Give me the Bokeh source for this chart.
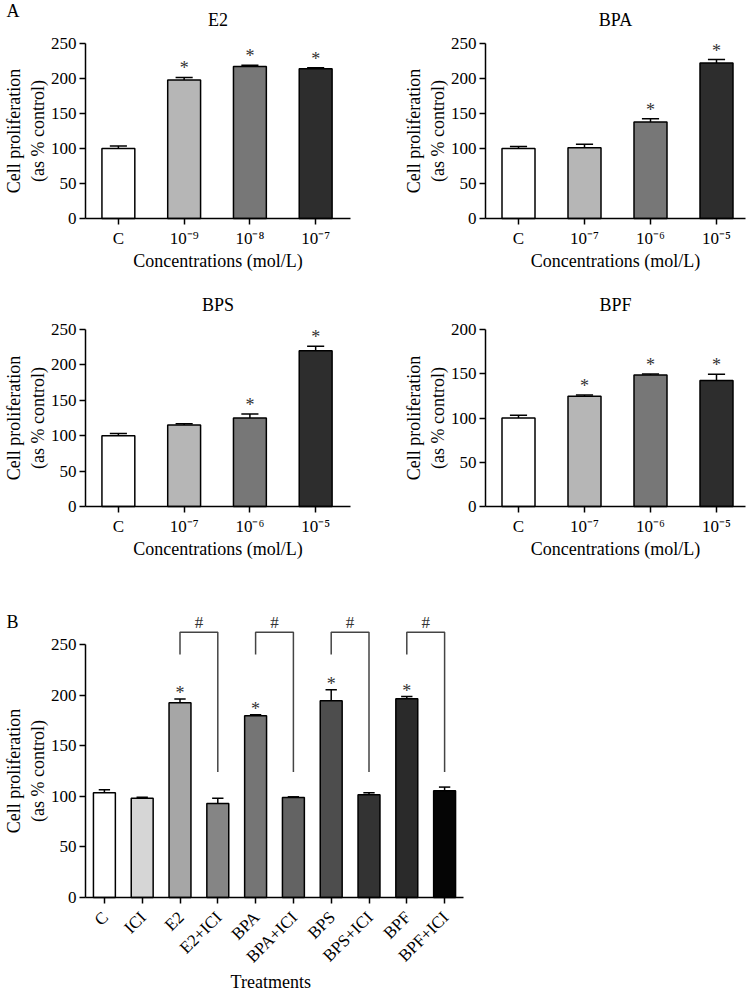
import math
from bokeh.plotting import figure
from bokeh.layouts import column, row
from bokeh.models import Range1d, FixedTicker
from bokeh.core.properties import value
from bokeh.embed import file_html
from bokeh.resources import INLINE

FONT = "Liberation Serif"

# ---------------- data (panel A) ----------------
e2_labels = ["C", "10⁻⁹", "10⁻⁸", "10⁻⁷"]
bp_labels = ["C", "10⁻⁷", "10⁻⁶", "10⁻⁵"]

e2_mean = [100, 198, 217, 214]
e2_err = [3.5, 3.5, 2, 1.2]
e2_sig = [False, True, True, True]

bpa_mean = [100, 101, 138, 222]
bpa_err = [3, 5, 4.5, 5]
bpa_sig = [False, False, True, True]

bps_mean = [100, 115, 125, 220]
bps_err = [3, 2, 5.5, 6.5]
bps_sig = [False, False, True, True]

bpf_mean = [100, 124.5, 148.5, 142.5]
bpf_err = [3, 1.5, 1.2, 7]
bpf_sig = [False, True, True, True]

colors_a = ["#ffffff", "#b6b6b6", "#777777", "#2d2d2d"]

# ---------------- data (panel B) ----------------
treatments = ["C", "ICI", "E2", "E2+ICI", "BPA", "BPA+ICI", "BPS", "BPS+ICI", "BPF", "BPF+ICI"]
treat_mean = [103.5, 98, 192.5, 93, 179.5, 98.8, 194.5, 101.5, 196.5, 105.5]
treat_err = [3, 1, 3.7, 5, 1, 0.7, 10.8, 2, 2, 3.6]
treat_sig = [False, False, True, False, True, False, True, False, True, False]
colors_b = ["#ffffff", "#d6d6d6", "#a6a6a6", "#858585", "#757575",
            "#636363", "#4d4d4d", "#333333", "#2a2a2a", "#050505"]
bracket_pairs = [(2, 3), (4, 5), (6, 7), (8, 9)]
bracket_top = 262
bracket_left_end = 240
bracket_right_end = 124

YLAB = "Cell proliferation\n(as % control)"


def make_fig(W, H, ax_px, zero_py, ppx, ppy):
    """Figure whose frame fills the canvas; axes sit at fixed data locations."""
    x0 = -0.5 - ax_px / ppx
    y0 = -(H - zero_py) / ppy
    p = figure(width=W, height=H, output_backend="svg", toolbar_location=None,
               x_range=Range1d(x0, x0 + W / ppx), y_range=Range1d(y0, zero_py / ppy),
               min_border=0, min_border_left=0, min_border_right=0,
               min_border_top=0, min_border_bottom=0)
    p.outline_line_color = None
    p.grid.visible = False
    p.xaxis.fixed_location = 0
    p.yaxis.fixed_location = -0.5
    return p


def style_axes(p, xlab, yticks, ybound, xbound, tick_size="17px"):
    p.yaxis.ticker = FixedTicker(ticks=yticks)
    p.yaxis.bounds = ybound
    p.xaxis.bounds = xbound
    for ax in (p.xaxis[0], p.yaxis[0]):
        ax.axis_line_width = 1.5
        ax.axis_line_color = "black"
        ax.major_tick_line_width = 1.5
        ax.major_tick_line_color = "black"
        ax.major_tick_out = 6
        ax.major_tick_in = 0
        ax.minor_tick_line_color = None
        ax.major_label_text_font = FONT
        ax.major_label_text_font_size = tick_size
        ax.major_label_text_color = "black"
        ax.axis_label_text_font = FONT
        ax.axis_label_text_font_size = "18px"
        ax.axis_label_text_font_style = "normal"
        ax.axis_label_text_color = "black"
    p.yaxis.axis_label = YLAB
    if xlab:
        p.xaxis.axis_label = xlab
    p.yaxis.major_label_standoff = 3
    p.yaxis.axis_label_standoff = 0
    p.xaxis.major_label_standoff = 4
    p.xaxis.axis_label_standoff = 0


def sx_text(p, x, y, txt, size="18px", color="black", align="center",
            baseline="middle", xoff=0, yoff=0, angle=0.0):
    p.text(x=x, y=y, text=txt, text_align=align, text_baseline=baseline,
           x_offset=xoff, y_offset=yoff, angle=angle, text_font=value(FONT),
           text_font_size=size, text_color=color)


def panel_a(title, labels, mean, err, sig, W, H, zero_py, ppx, ppy, x_axis_end,
            ymax_axis, title_py, letter=None):
    n = len(labels)
    idx = list(range(n))
    p = make_fig(W, H, 85, zero_py, ppx, ppy)
    style_axes(p, "Concentrations (mol/L)", list(range(0, ymax_axis + 1, 50)),
               (0, ymax_axis), (-0.5, x_axis_end))
    p.xaxis.ticker = FixedTicker(ticks=idx)
    p.xaxis.major_label_overrides = {i: lab for i, lab in enumerate(labels)}
    tops = [m + e for m, e in zip(mean, err)]
    cw = 0.13
    p.segment(x0=idx, y0=mean, x1=idx, y1=tops, line_color="black", line_width=1.5)
    p.segment(x0=[i - cw for i in idx], y0=tops, x1=[i + cw for i in idx], y1=tops,
              line_color="black", line_width=1.5)
    p.vbar(x=idx, top=mean, bottom=0, width=0.5, fill_color=colors_a,
           line_color="black", line_width=1.5)
    sx = [i for i, s in zip(idx, sig) if s]
    sy = [t for t, s in zip(tops, sig) if s]
    sx_text(p, sx, sy, ["*"] * len(sx), color="#333333", yoff=-9)
    sx_text(p, [(x_axis_end - 0.5) / 2], [(zero_py - title_py) / ppy], [title])
    if letter:
        x0 = p.x_range.start
        sx_text(p, [x0 + 6 / ppx], [p.y_range.end], [letter], align="left", baseline="top")
    return p


# Row 1 (page y 0..280)
p1 = panel_a("E2", e2_labels, e2_mean, e2_err, e2_sig, 400, 280, 218, 65.76, 0.7,
             3.53, 250, 19, letter="A")
p2 = panel_a("BPA", bp_labels, bpa_mean, bpa_err, bpa_sig, 350, 280, 218, 66.0, 0.7,
             3.44, 250, 19)
# Row 2 (page y 280..560)
p3 = panel_a("BPS", bp_labels, bps_mean, bps_err, bps_sig, 400, 280, 226, 65.76, 0.708,
             3.53, 250, 24)
p4 = panel_a("BPF", bp_labels, bpf_mean, bpf_err, bpf_sig, 350, 280, 226, 66.0, 0.885,
             3.44, 200, 24)

# Panel B (page y 560..992)
nb = len(treatments)
idxb = list(range(nb))
ppx_b, ppy_b = 37.8, 1.012
zero_b = 337
p5 = make_fig(480, 432, 85, zero_b, ppx_b, ppy_b)
style_axes(p5, None, list(range(0, 251, 50)), (0, 250), (-0.5, nb - 0.5))
p5.xaxis.ticker = FixedTicker(ticks=idxb)
# diagonal category labels are drawn as rotated text at the tick positions
p5.xaxis.major_label_overrides = {i: "" for i in idxb}
sx_text(p5, idxb, [0] * nb, treatments, size="17px", align="right", baseline="middle",
        xoff=1, yoff=17, angle=math.pi / 4)
sx_text(p5, [(nb - 1) / 2 - 0.1], [(zero_b - 421) / ppy_b], ["Treatments"])

topsb = [m + e for m, e in zip(treat_mean, treat_err)]
cwb = 0.15
p5.segment(x0=idxb, y0=treat_mean, x1=idxb, y1=topsb, line_color="black", line_width=1.5)
p5.segment(x0=[i - cwb for i in idxb], y0=topsb, x1=[i + cwb for i in idxb], y1=topsb,
           line_color="black", line_width=1.5)
p5.vbar(x=idxb, top=treat_mean, bottom=0, width=0.58, fill_color=colors_b,
        line_color="black", line_width=1.5)
sxb = [i for i, s in zip(idxb, treat_sig) if s]
syb = [t for t, s in zip(topsb, treat_sig) if s]
sx_text(p5, sxb, syb, ["*"] * len(sxb), color="#333333", yoff=-6)
bxs = [[a, a, b, b] for a, b in bracket_pairs]
bys = [[bracket_left_end, bracket_top, bracket_top, bracket_right_end] for _ in bracket_pairs]
p5.multi_line(xs=bxs, ys=bys, line_color="#444444", line_width=1.5)
sx_text(p5, [(a + b) / 2 for a, b in bracket_pairs], [bracket_top] * len(bracket_pairs),
        ["#"] * len(bracket_pairs), size="17px", color="#333333", yoff=-10)
sx_text(p5, [p5.x_range.start + 6 / ppx_b], [(zero_b - 61) / ppy_b], ["B"], align="left")

layout = column(row(p1, p2, spacing=0), row(p3, p4, spacing=0), p5, spacing=0)
open("out.html", "w").write(file_html(layout, INLINE))
